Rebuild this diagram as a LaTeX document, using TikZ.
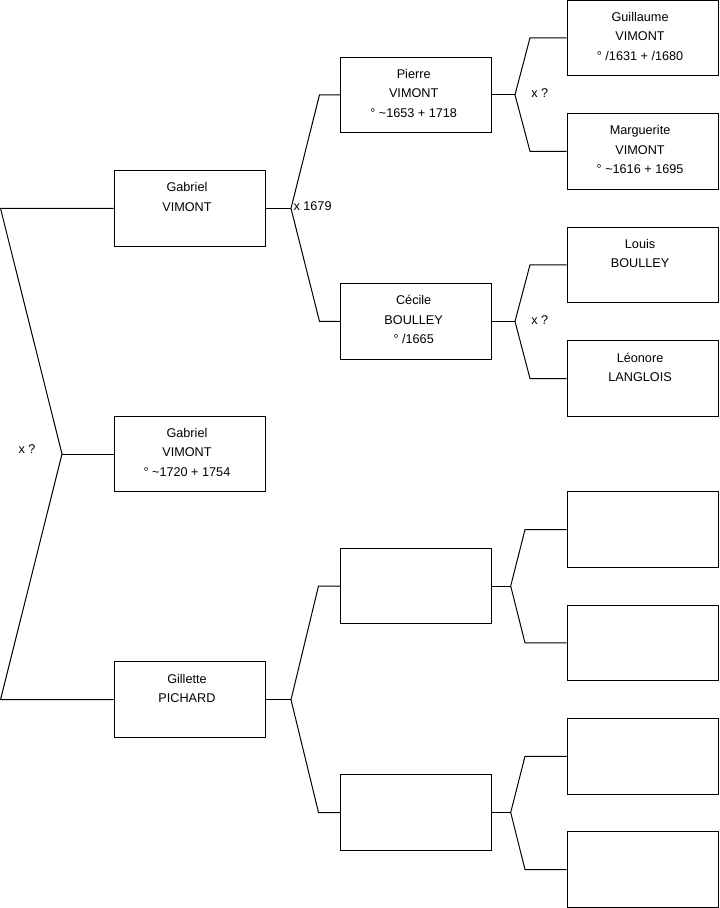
\documentclass[tikz,border=0pt]{standalone}
\usepackage{fontspec}
\setmainfont{Liberation Sans}
\tikzset{
  box/.style={draw, line width=0.75pt, rectangle, minimum width=113.25pt, minimum height=56.6pt, inner sep=0pt},
  txt/.style={font=\fontsize{9.5}{11.4}\selectfont, inner sep=0pt, anchor=base},
  lbl/.style={font=\fontsize{9.5}{11.4}\selectfont, inner sep=0pt, anchor=west},
  link/.style={line width=0.75pt, line join=miter}
}
\newcommand\persontext[4]{%
  \node[txt] (#1-a) at ([xshift=-1.9pt,yshift=-16.3pt]#1.north) {#2};
  \node[txt] (#1-b) at ([xshift=-1.9pt,yshift=-30.9pt]#1.north) {#3};
  \node[txt] (#1-c) at ([xshift=-1.9pt,yshift=-45.5pt]#1.north) {#4};
}
\begin{document}
\begin{tikzpicture}[x=0.75pt, y=-0.75pt]
\useasboundingbox (0,0) rectangle (719,908);
% generation 1
\node[box] (g1) at (189.5,208.4) {};
\node[box] (g0) at (189.5,454) {};
\node[box] (gp) at (189.5,699.7) {};
% generation 2
\node[box] (p) at (416.2,94.8) {};
\node[box] (c) at (416.2,321.4) {};
\node[box] (e1) at (416.2,586) {};
\node[box] (e2) at (416.2,812.5) {};
% generation 3
\node[box] (gu) at (642.6,37.8) {};
\node[box] (ma) at (642.6,151.3) {};
\node[box] (lo) at (642.6,264.8) {};
\node[box] (le) at (642.6,378.5) {};
\node[box] (f1) at (642.6,529.6) {};
\node[box] (f2) at (642.6,642.9) {};
\node[box] (f3) at (642.6,756.3) {};
\node[box] (f4) at (642.6,869.5) {};
% texts
\persontext{g1}{Gabriel}{VIMONT}{}
\persontext{g0}{Gabriel}{VIMONT}{° \textasciitilde 1720 + 1754}
\persontext{gp}{Gillette}{PICHARD}{}
\persontext{p}{Pierre}{VIMONT}{° \textasciitilde 1653 + 1718}
\persontext{c}{Cécile}{BOULLEY}{° /1665}
\persontext{gu}{Guillaume}{VIMONT}{° /1631 + /1680}
\persontext{ma}{Marguerite}{VIMONT}{° \textasciitilde 1616 + 1695}
\persontext{lo}{Louis}{BOULLEY}{}
\persontext{le}{Léonore}{LANGLOIS}{}
% left fork
\coordinate (A1) at (0.5,208.4);
\coordinate (V0) at (62,454);
\coordinate (A2) at (0.5,699.7);
\draw[link] (g1.west) -- (A1) -- (V0) -- (A2) -- (gp.west);
\draw[link] (V0) -- (g0.west);
\node[lbl] (m0) at (18.3,449.2) {x ?};
% fork from g1
\coordinate (v1) at (291,208.4);
\coordinate (t1) at (319.5,94.8);
\coordinate (b1) at (319.5,321.4);
\draw[link] (g1.east) -- (v1);
\draw[link] (p.west) -- (t1) -- (v1) -- (b1) -- (c.west);
\node[lbl] (m1) at (293.3,206.5) {x 1679};
% fork from gp
\coordinate (v2) at (291,699.7);
\coordinate (t2) at (318.5,586);
\coordinate (b2) at (318.5,812.5);
\draw[link] (gp.east) -- (v2);
\draw[link] (e1.west) -- (t2) -- (v2) -- (b2) -- (e2.west);
% fork from p
\coordinate (vp) at (515,94.8);
\coordinate (tp) at (530,37.8);
\coordinate (bp) at (530,151.3);
\draw[link] (p.east) -- (vp);
\draw[link] (gu.west) -- (tp) -- (vp) -- (bp) -- (ma.west);
\node[lbl] (mp) at (531,93) {x ?};
% fork from c
\coordinate (vc) at (515,321.4);
\coordinate (tc) at (530,264.8);
\coordinate (bc) at (530,378.5);
\draw[link] (c.east) -- (vc);
\draw[link] (lo.west) -- (tc) -- (vc) -- (bc) -- (le.west);
\node[lbl] (mc) at (531,320.3) {x ?};
% fork from e1
\coordinate (ve1) at (510.7,586);
\coordinate (te1) at (525,529.6);
\coordinate (be1) at (525,642.9);
\draw[link] (e1.east) -- (ve1);
\draw[link] (f1.west) -- (te1) -- (ve1) -- (be1) -- (f2.west);
% fork from e2
\coordinate (ve2) at (510.7,812.5);
\coordinate (te2) at (525,756.3);
\coordinate (be2) at (525,869.5);
\draw[link] (e2.east) -- (ve2);
\draw[link] (f3.west) -- (te2) -- (ve2) -- (be2) -- (f4.west);
\end{tikzpicture}
\end{document}
